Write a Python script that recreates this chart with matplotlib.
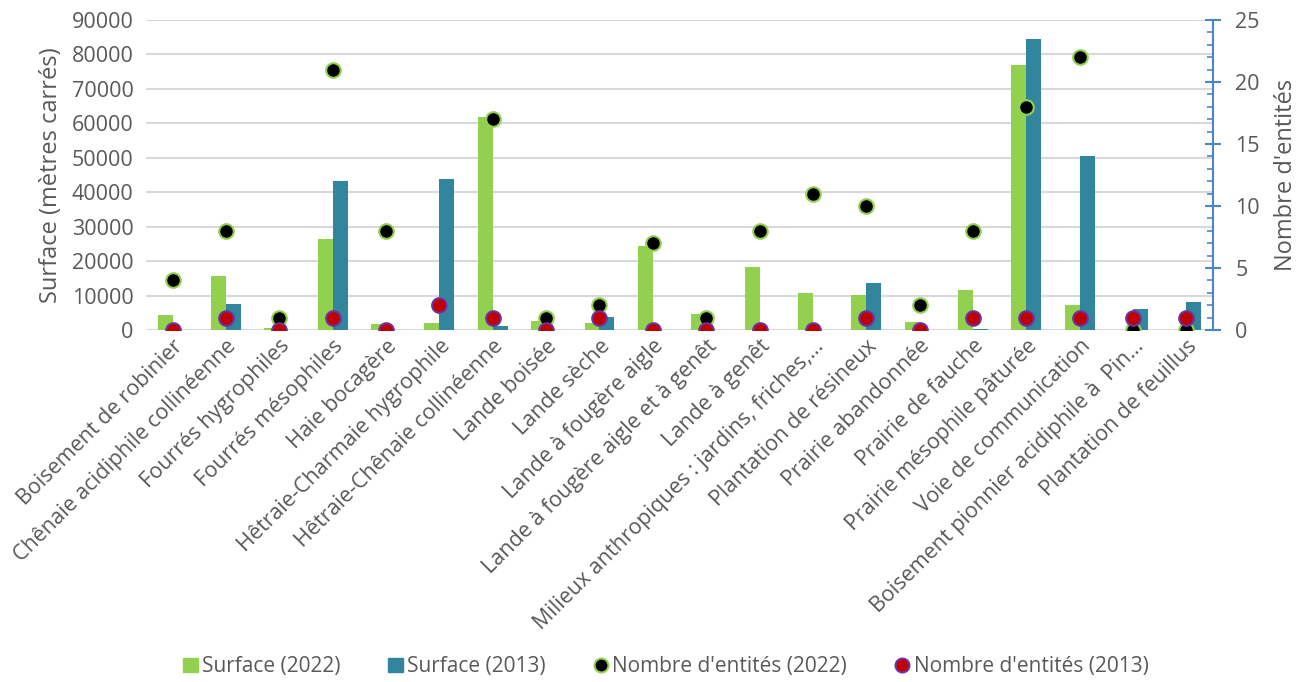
import matplotlib.pyplot as plt
import numpy as np
from matplotlib.ticker import MultipleLocator
from matplotlib.lines import Line2D
from matplotlib.patches import Patch

plt.rcParams['font.family'] = ['Open Sans', 'DejaVu Sans']

categories = [
    "Boisement de robinier", "Chênaie acidiphile collinéenne", "Fourrés hygrophiles",
    "Fourrés mésophiles", "Haie bocagère", "Hêtraie-Charmaie hygrophile",
    "Hêtraie-Chênaie collinéenne", "Lande boisée", "Lande sèche",
    "Lande à fougère aigle", "Lande à fougère aigle et à genêt", "Lande à genêt",
    "Milieux anthropiques : jardins, friches,…", "Plantation de résineux",
    "Prairie abandonnée", "Prairie de fauche", "Prairie mésophile pâturée",
    "Voie de communication", "Boisement pionnier acidiphile à  Pin…",
    "Plantation de feuillus",
]
surface_2022 = [4350, 15700, 700, 26300, 1750, 2100, 61950, 2600, 2100, 24500,
                4550, 18400, 10850, 10050, 2400, 11600, 76950, 7250, 0, 0]
surface_2013 = [0, 7450, 0, 43300, 0, 43850, 1250, 0, 3900, 0,
                0, 0, 0, 13550, 0, 200, 84400, 50500, 6000, 8200]
nb_2022 = [4, 8, 1, 21, 8, 2, 17, 1, 2, 7, 1, 8, 11, 10, 2, 8, 18, 22, 0, 0]
nb_2013 = [0, 1, 0, 1, 0, 2, 1, 0, 1, 0, 0, 0, 0, 1, 0, 1, 1, 1, 1, 1]

gris = '#595959'
vert = '#92D050'
bleu = '#31859C'

fig = plt.figure(figsize=(13.08, 6.82), dpi=100)
ax = fig.add_axes([0.1116, 0.516, 0.8158, 0.4547])
x = np.arange(len(categories))
w = 0.28

ax.bar(x - w / 2, surface_2022, w, color=vert, zorder=2)
ax.bar(x + w / 2, surface_2013, w, color=bleu, zorder=2)
ax.set_ylim(0, 90000)
ax.set_xlim(-0.5, len(categories) - 0.5)
ax.yaxis.set_major_locator(MultipleLocator(10000))
ax.grid(axis='y', color='#D9D9D9', lw=1.5, zorder=0)
for s in ax.spines.values():
    s.set_visible(False)
ax.tick_params(axis='y', length=0, labelsize=15.5, labelcolor=gris, pad=9)
ax.tick_params(axis='x', length=0, pad=4)
ax.set_xticks(x)
ax.set_xticklabels(categories, rotation=45, ha='right', rotation_mode='anchor',
                   fontsize=15.5, color=gris)
ax.set_ylabel("Surface (mètres carrés)", fontsize=17, color=gris, labelpad=6)

ax2 = ax.twinx()
ax2.set_ylim(0, 25)
ax2.set_xlim(-0.5, len(categories) - 0.5)
ax2.plot(x, nb_2022, 'o', ms=10.5, mfc='black', mec=vert, mew=1.5, zorder=3)
ax2.plot(x, nb_2013, 'o', ms=10.5, mfc='#C00000', mec='#7030A0', mew=1.5, zorder=4)
ax2.yaxis.set_major_locator(MultipleLocator(5))
ax2.yaxis.set_minor_locator(MultipleLocator(1))
for k in ['top', 'left', 'bottom']:
    ax2.spines[k].set_visible(False)
ax2.spines['right'].set_color('#4A86C8')
ax2.spines['right'].set_linewidth(1.5)
ax2.tick_params(axis='y', which='major', direction='inout', length=12, width=1.5,
                color='#4A86C8', labelsize=15.5, labelcolor=gris, pad=10)
ax2.tick_params(axis='y', which='minor', direction='in', length=4, width=1.2,
                color='#4A86C8')
ax2.set_ylabel("Nombre d'entités", fontsize=17, color=gris, labelpad=10)

handles = [
    Patch(color=vert, label='Surface (2022)'),
    Patch(color=bleu, label='Surface (2013)'),
    Line2D([], [], ls='', marker='o', ms=10, mfc='black', mec=vert, mew=1.5,
           label="Nombre d'entités (2022)"),
    Line2D([], [], ls='', marker='o', ms=10, mfc='#C00000', mec='#7030A0', mew=1.5,
           label="Nombre d'entités (2013)"),
]
leg = fig.legend(handles=handles, loc='center', bbox_to_anchor=(0.509, 0.022), ncol=4,
                 frameon=False, fontsize=15, handlelength=0.7, handleheight=0.7,
                 handletextpad=0.2, columnspacing=2.3)
for t in leg.get_texts():
    t.set_color(gris)

fig.savefig('out.png', dpi=100)
